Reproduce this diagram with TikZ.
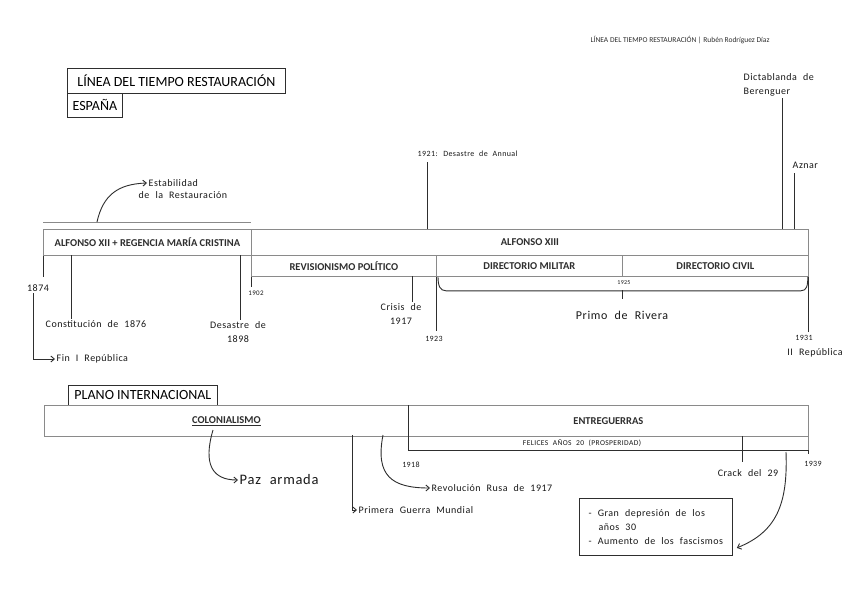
\documentclass[tikz,border=0pt]{standalone}
\usepackage{fontspec}
\setmainfont{Carlito}
\newfontfamily\handfont[LetterSpace=5,WordSpace=2.2]{Carlito}
\usetikzlibrary{arrows.meta, positioning}
\definecolor{trazo}{HTML}{2E2E2E}
\definecolor{borde}{HTML}{8A8A8A}

\tikzset{
  periodo/.style={draw=borde, line width=0.8pt, anchor=north west, inner sep=0pt,
    font=\bfseries\fontsize{10.5}{12}\selectfont, text=trazo},
  titulo/.style={draw=trazo, line width=0.8pt, anchor=north west, inner sep=0pt,
    font=\fontsize{14}{16}\selectfont, text=black},
  mano/.style={font=\handfont\fontsize{10}{14}\selectfont, inner sep=1.5pt, align=center, text=black!90},
  manochica/.style={mano, font=\handfont\fontsize{7}{9}\selectfont},
  manogrande/.style={mano, font=\handfont\fontsize{12}{14}\selectfont},
  linea/.style={draw=trazo, line width=0.9pt},
  flecha/.style={linea, -{Straight Barb[length=3.5pt,width=6pt]}}
}

\begin{document}
\begin{tikzpicture}[x=1pt, y=-1pt]
    \useasboundingbox (0,0) rectangle (848,599);
    \fill[white] (0,0) rectangle (848,599);

    % Cabecera
    \node[font=\fontsize{7.5}{9}\selectfont, text=trazo] (cabecera) at (680,40) {LÍNEA DEL TIEMPO RESTAURACIÓN | Rubén Rodríguez Díaz};

    % Títulos
    \node[titulo, minimum width=218, minimum height=25] (tit) at (67,68) {LÍNEA DEL TIEMPO RESTAURACIÓN};
    \node[titulo, minimum width=55, minimum height=24] (espana) at (67,93) {ESPAÑA};

    % Periodos de España
    \draw[borde, line width=0.8pt] (43,222) -- (251,222);
    \node[periodo, minimum width=208, minimum height=26] (alf12) at (43,229) {ALFONSO XII + REGENCIA MARÍA CRISTINA};
    \node[periodo, minimum width=557, minimum height=26] (alf13) at (251,229) {ALFONSO XIII};
    \foreach \n/\x/\w/\t in {revis/251/185/REVISIONISMO POLÍTICO, dmil/436/186/DIRECTORIO MILITAR, dciv/622/186/DIRECTORIO CIVIL}
        \node[periodo, minimum width=\w, minimum height=21] (\n) at (\x,255) {\t};

    % Estabilidad
    \coordinate (c1875) at (97,222);
    \node[mano, anchor=west] (estab) at (147,183) {Estabilidad};
    \node[mano, anchor=west] (restau) at (137,195) {de la Restauración};
    \draw[flecha] (c1875) .. controls (103,195) and (118,184) .. (estab.west);

    % Hechos por encima
    \coordinate (c1921) at (427,229);
    \coordinate (c1930) at (782,229);
    \coordinate (c1931a) at (794,229);
    \node[mano, anchor=west, font=\handfont\fontsize{8}{10}\selectfont] (annual) at (416,154) {1921: Desastre de Annual};
    \node[mano, anchor=north west, align=left] (dicta) at (742,72) {Dictablanda de\\Berenguer};
    \node[mano, anchor=west] (aznar) at (791,165) {Aznar};
    \draw[linea, shorten >=3pt] (c1921) -- (c1921 |- annual.south);
    \draw[linea] (c1930) -- (c1930 |- dicta.south);
    \draw[linea, shorten >=3pt] (c1931a) -- (c1931a |- aznar.south);

    % Hechos por debajo
    \node[mano] (a1874) at (38,288) {1874};
    \node[mano, anchor=west] (finrep) at (55,359) {Fin I República};
    \draw[linea] (alf12.south west) -- ++(0,21);
    \draw[flecha] ([xshift=-5pt]a1874.south) |- (finrep.west);

    \coordinate (c1876) at (71,255);
    \node[mano] (const) at (96,324) {Constitución de 1876};
    \draw[linea] (c1876) -- (c1876 |- const.north);

    \coordinate (c1898) at (240,255);
    \node[mano] (des98) at (238,332) {Desastre de\\1898};
    \draw[linea] (c1898) -- (c1898 |- des98.north);

    \draw[linea] (revis.south west) -- ++(0,10);
    \node[manochica] (a1902) at (256,293) {1902};

    \coordinate (c1917) at (412,276);
    \node[mano] (crisis) at (401,314) {Crisis de\\1917};
    \draw[linea] (c1917) -- (c1917 |- crisis.north);

    \draw[linea] (dmil.south west) -- ++(0,54);
    \node[manochica, font=\handfont\fontsize{8}{9}\selectfont] (a1923) at (434,339) {1923};

    % Primo de Rivera
    \draw[linea] ([xshift=2pt]dmil.south west) .. controls +(0,9) and +(-6,0) .. ([xshift=10pt,yshift=-14pt]dmil.south west)
        -- ([xshift=-8pt,yshift=-14pt]dciv.south east) .. controls +(6,0) and +(0,9) .. ([xshift=-1pt]dciv.south east);
    \coordinate (c1925) at (622,290);
    \draw[linea] (c1925) -- ++(0,9);
    \node[manochica, font=\handfont\fontsize{6}{7}\selectfont] (a1925) at (624,283) {1925};
    \node[manogrande] (primo) at (622,315) {Primo de Rivera};

    \draw[linea] (dciv.south east) -- ++(0,55);
    \node[manochica, font=\handfont\fontsize{8}{9}\selectfont] (a1931) at (804,338) {1931};
    \node[mano] (repII) at (815,353) {II República};

    % Plano internacional
    \node[titulo, minimum width=149, minimum height=20] (plano) at (68,385) {PLANO INTERNACIONAL};
    \node[periodo, minimum width=364, minimum height=31] (colon) at (44,405) {\underline{COLONIALISMO}};
    \node[periodo, minimum width=400, minimum height=31] (entre) at (408,405) {ENTREGUERRAS};
    \node[periodo, minimum width=400, minimum height=14] (felices) at (408,436) {};
    \node[manochica, font=\handfont\fontsize{7.5}{8}\selectfont] (felicestxt) at (582,443) {FELICES AÑOS 20 (PROSPERIDAD)};
    \draw[linea] (entre.north west) -- (felices.south west) -- (felices.south east) -- ++(0,3);

    \node[manochica, font=\handfont\fontsize{8}{9}\selectfont] (a1918) at (411,465) {1918};
    \node[manochica, font=\handfont\fontsize{8}{9}\selectfont] (a1939) at (813,464) {1939};

    \coordinate (c1929) at (742,436);
    \draw[linea] (c1929) -- ++(0,26);
    \node[mano] (crack) at (748,473) {Crack del 29};

    \coordinate (cpaz) at (213,430);
    \node[mano, anchor=west, font=\handfont\fontsize{14.5}{17}\selectfont] (paz) at (238,480) {Paz armada};
    \draw[flecha] (cpaz) .. controls (203,464) and (212,480) .. (paz.west);

    \coordinate (c1914) at (352,435);
    \node[mano, anchor=west] (guerra) at (357,510) {Primera Guerra Mundial};
    \draw[flecha] (c1914) |- (guerra.west);

    \coordinate (c1917r) at (383,435);
    \node[mano, anchor=west] (revol) at (430,488) {Revolución Rusa de 1917};
    \draw[flecha] (c1917r) .. controls (375,476) and (392,488) .. (revol.west);

    % Consecuencias
    \node[mano, draw=trazo, line width=0.8pt, anchor=north west, minimum width=153, minimum height=57, align=left] (consec) at (579,498)
        {- Gran depresión de los\\\hspace*{10pt}años 30\\- Aumento de los fascismos};
    \coordinate (c1939) at (786,452);
    \draw[flecha] (c1939) .. controls (788,505) and (776,532) .. ([xshift=4pt,yshift=-21pt]consec.east);
\end{tikzpicture}
\end{document}
